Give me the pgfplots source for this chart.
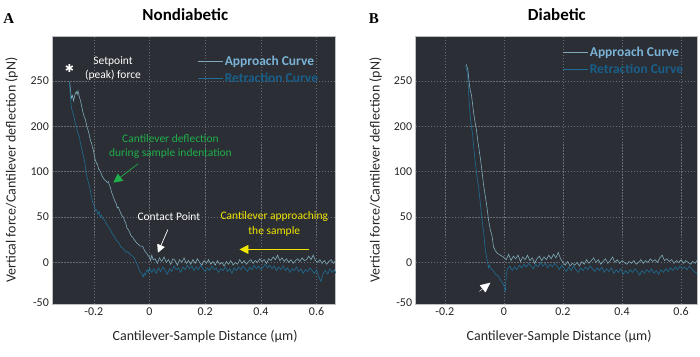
\documentclass[border=0pt]{standalone}
\usepackage{pgfplots}
\pgfplotsset{compat=1.18}
\usepackage{fontspec}
\setmainfont{Carlito}
\newfontfamily\letterfont{Liberation Serif}
\newfontfamily\symfont{DejaVu Sans}
\usetikzlibrary{arrows.meta}

\definecolor{panelbg}{HTML}{2B2E34}
\definecolor{gridc}{HTML}{696C72}
\definecolor{appr}{HTML}{7FAABA}
\definecolor{retr}{HTML}{1F6E96}
\definecolor{apprtxt}{HTML}{7BB3D8}
\definecolor{retrtxt}{HTML}{1A5F8A}
\definecolor{annGreen}{HTML}{1FAF4B}
\definecolor{annYellow}{HTML}{F2E600}

\tikzset{annot/.style={font=\fontsize{11.5}{14.7}\selectfont, align=center}}

% Force axis: the y scale is drawn with evenly spaced gridlines
% labelled 0, 50, 100, 200, 250 (display units below).
\pgfplotsset{
  afm/.style={
    scale only axis, height=269pt,
    clip mode=individual,
    axis background/.style={fill=panelbg},
    axis line style={gray!50, line width=0.6pt},
    grid=major,
    major grid style={gridc, dash pattern=on 1.2pt off 1.8pt, line width=0.5pt},
    tick style={draw=none},
    ymin=-46.2, ymax=249.5,
    ytick={0,50,100,150,200}, yticklabels={0,50,100,200,250},
    extra y ticks={-44}, extra y tick labels={-50},
    extra y tick style={grid=none},
    xtick={-0.2,0,0.2,0.4,0.6},
    xticklabels={-0.2,0,0.2,0.4,0.6},
    ticklabel style={font=\fontsize{12}{12}\selectfont, text=black!85},
    /pgf/number format/assume math mode=true,
    xlabel={Cantilever-Sample Distance (µm)},
    ylabel={Vertical force/Cantilever deflection (pN)},
    label style={font=\fontsize{14}{14}\selectfont, text=black!85},
    title style={font=\bfseries\fontsize{17}{17}\selectfont},
    legend style={draw=none, fill=none,
      font=\bfseries\fontsize{13.5}{13.5}\selectfont,
      anchor=north west, row sep=2pt},
    legend cell align=left,
    legend image code/.code={\draw[#1] (0pt,0pt) -- (25pt,0pt);},
  }
}

\begin{document}
\begin{tikzpicture}
\path (0pt,0pt) rectangle (700pt,357pt);

% ---------------- A: Nondiabetic ----------------
\begin{axis}[afm, at={(51pt,52pt)}, anchor=south west, width=284pt,
  xmin=-0.349, xmax=0.669,
  title={Nondiabetic},
  title style={at={(axis description cs:0.469,1.057)}, anchor=center},
  xlabel style={at={(axis description cs:0.539,-0.118)}, anchor=center},
  ylabel style={at={(axis description cs:-0.144,0.5)}, anchor=center},
  legend style={at={(axis description cs:0.50,0.94)}},
]
\addplot[appr, line width=0.6pt] coordinates {
(-0.287,199) (-0.284,190) (-0.281,181) (-0.277,184) (-0.273,178) (-0.268,185)
(-0.263,188) (-0.260,185) (-0.257,189) (-0.252,182) (-0.248,178) (-0.245,174)
(-0.241,168) (-0.239,165) (-0.234,160) (-0.230,157) (-0.226,151) (-0.221,146)
(-0.216,140) (-0.212,134) (-0.209,132) (-0.205,127) (-0.202,124) (-0.198,117)
(-0.194,112) (-0.190,109) (-0.187,108) (-0.183,103) (-0.180,102) (-0.175,99)
(-0.170,95) (-0.166,93) (-0.162,91) (-0.157,90) (-0.152,88) (-0.148,89)
(-0.145,86) (-0.140,82) (-0.136,77) (-0.130,72) (-0.125,68) (-0.120,65)
(-0.116,60) (-0.112,61) (-0.107,57) (-0.103,54) (-0.098,51) (-0.094,50)
(-0.090,46) (-0.086,44) (-0.081,38) (-0.076,36) (-0.071,33) (-0.066,29)
(-0.061,28) (-0.055,25) (-0.050,23) (-0.045,21) (-0.040,20) (-0.034,18)
(-0.029,18) (-0.023,17) (-0.018,13) (-0.013,11) (-0.008,9) (-0.004,7)
(0.000,6) (0.004,2) (0.008,8) (0.013,3)
(0.020,4) (0.028,-1) (0.036,5) (0.044,1) (0.052,6) (0.060,0) (0.068,3)
(0.076,-2) (0.084,4) (0.092,2) (0.100,-3) (0.108,3) (0.116,0) (0.124,5)
(0.132,-1) (0.140,2) (0.148,-2) (0.156,3) (0.164,-1) (0.172,4) (0.180,0)
(0.188,-3) (0.196,2) (0.204,-1) (0.212,3) (0.220,-2) (0.228,1) (0.236,-3)
(0.244,2) (0.252,-2) (0.260,0) (0.268,-4) (0.276,1) (0.284,-2) (0.292,2)
(0.300,-3) (0.308,0) (0.316,-2) (0.324,3) (0.332,-1) (0.340,2) (0.348,-2)
(0.356,1) (0.364,3) (0.372,-1) (0.380,2) (0.388,0) (0.396,4) (0.404,1)
(0.412,3) (0.420,-1) (0.428,4) (0.436,2) (0.444,6) (0.452,3) (0.460,8)
(0.468,2) (0.476,5) (0.484,1) (0.492,4) (0.500,0) (0.508,3) (0.516,-1)
(0.524,2) (0.532,4) (0.540,1) (0.548,5) (0.556,2) (0.564,3) (0.572,7)
(0.580,3) (0.588,8) (0.596,2) (0.604,0) (0.612,3) (0.620,-1) (0.628,2)
(0.636,-2) (0.644,1) (0.652,3) (0.660,-1) (0.668,2)
};
\addlegendentry{\textcolor{apprtxt}{Approach Curve}}
\addplot[retr, line width=0.6pt] coordinates {
(-0.288,199) (-0.285,186) (-0.281,171) (-0.277,166) (-0.273,163) (-0.268,155)
(-0.263,150) (-0.258,143) (-0.252,138) (-0.248,131) (-0.245,128) (-0.240,120)
(-0.234,113) (-0.230,104) (-0.227,97) (-0.222,91) (-0.216,84) (-0.212,78)
(-0.209,73) (-0.204,66) (-0.198,62) (-0.194,57) (-0.190,58) (-0.186,53)
(-0.181,56) (-0.177,50) (-0.173,52) (-0.168,48) (-0.162,47) (-0.157,43)
(-0.151,41) (-0.145,38) (-0.139,35) (-0.133,31) (-0.127,29) (-0.121,25)
(-0.115,23) (-0.109,21) (-0.103,17) (-0.097,16) (-0.091,14) (-0.085,11)
(-0.079,12) (-0.073,10) (-0.067,8) (-0.061,7) (-0.055,5) (-0.050,1)
(-0.046,-1) (-0.042,-4) (-0.037,-8) (-0.032,-11) (-0.027,-13) (-0.023,-16)
(-0.019,-12) (-0.015,-14) (-0.012,-10) (-0.008,-8) (-0.004,-11)
(0.000,-6) (0.008,-11) (0.016,-7) (0.024,-12) (0.032,-6) (0.040,-10)
(0.048,-5) (0.056,-9) (0.064,-13) (0.072,-7) (0.080,-10) (0.088,-4)
(0.096,-8) (0.104,-6) (0.112,-11) (0.120,-5) (0.128,-8) (0.136,-3)
(0.144,-7) (0.152,-4) (0.160,-9) (0.168,-5) (0.176,-8) (0.184,-3)
(0.192,-7) (0.200,-10) (0.208,-6) (0.216,-9) (0.224,-4) (0.232,-8)
(0.240,-6) (0.248,-11) (0.256,-7) (0.264,-9) (0.272,-5) (0.280,-10)
(0.288,-7) (0.296,-12) (0.304,-6) (0.312,-9) (0.320,-5) (0.328,-8)
(0.336,-4) (0.344,-7) (0.352,-10) (0.360,-5) (0.368,-8) (0.376,-3)
(0.384,-7) (0.392,-4) (0.400,-8) (0.408,-5) (0.416,-2) (0.424,-6)
(0.432,-3) (0.440,-7) (0.448,-4) (0.456,-9) (0.464,-5) (0.472,-8)
(0.480,-4) (0.488,-9) (0.496,-6) (0.504,-11) (0.512,-7) (0.520,-9)
(0.528,-5) (0.536,-10) (0.544,-7) (0.552,-12) (0.560,-8) (0.568,-10)
(0.576,-6) (0.584,-9) (0.592,-12) (0.600,-8) (0.608,-16) (0.616,-21)
(0.624,-12) (0.632,-9) (0.640,-13) (0.648,-7) (0.656,-11) (0.664,-8)
(0.669,-12)
};
\addlegendentry{\textcolor{retrtxt}{Retraction Curve}}

% annotations
\node[text=white, font=\symfont\fontsize{11}{11}\selectfont] at (axis cs:-0.288,214) {✱};
\node[annot, text=white] at (axis cs:-0.131,213.5) {Setpoint\\(peak) force};
\node[annot, text=annGreen] at (axis cs:0.075,127.8) {Cantilever deflection\\during sample indentation};
\draw[annGreen, line width=0.7pt, -{Triangle[length=9pt,width=9pt]}]
  (axis cs:-0.0405,108.8) -- (axis cs:-0.130,87.9);
\node[annot, text=white] at (axis cs:0.0695,50.2) {Contact Point};
\draw[white, line width=0.7pt, -{Triangle[length=8pt,width=8pt]}]
  (axis cs:0.066,36.3) -- (axis cs:0.030,10.7);
\node[annot, text=annYellow] at (axis cs:0.448,42.1) {Cantilever approaching\\the sample};
\draw[annYellow, line width=0.8pt, -{Triangle[length=9pt,width=9pt]}]
  (axis cs:0.573,14.3) -- (axis cs:0.323,14.3);
\node[font=\letterfont\bfseries\fontsize{15}{15}\selectfont, anchor=center]
  at (axis description cs:-0.154,1.066) {A};
\end{axis}

% ---------------- B: Diabetic ----------------
\begin{axis}[afm, at={(415pt,52pt)}, anchor=south west, width=282pt,
  xmin=-0.299, xmax=0.654,
  title={Diabetic},
  title style={at={(axis description cs:0.502,1.057)}, anchor=center},
  xlabel style={at={(axis description cs:0.51,-0.118)}, anchor=center},
  ylabel style={at={(axis description cs:-0.142,0.5)}, anchor=center},
  legend style={at={(axis description cs:0.51,0.975)}},
]
\addplot[appr, line width=0.6pt] coordinates {
(-0.127,218) (-0.122,212) (-0.117,196) (-0.113,188) (-0.110,185) (-0.106,174)
(-0.103,166) (-0.098,155) (-0.093,146) (-0.091,141) (-0.088,133) (-0.083,122)
(-0.079,113) (-0.074,100) (-0.069,86) (-0.063,73) (-0.057,60) (-0.052,47)
(-0.046,36) (-0.040,29) (-0.035,17) (-0.029,13) (-0.022,10) (-0.012,8)
(-0.002,6)
(0.008,3) (0.016,9) (0.024,2) (0.032,7) (0.040,4) (0.048,8) (0.056,1)
(0.064,6) (0.072,3) (0.080,8) (0.088,2) (0.096,5) (0.104,-1) (0.112,4)
(0.120,7) (0.128,2) (0.136,6) (0.144,3) (0.152,8) (0.160,4) (0.168,9)
(0.176,5) (0.184,11) (0.192,4) (0.200,0) (0.208,-3) (0.216,1) (0.224,-4)
(0.232,-1) (0.240,-3) (0.248,0) (0.256,-4) (0.264,1) (0.272,-2) (0.280,3)
(0.288,-1) (0.296,2) (0.304,5) (0.312,0) (0.320,3) (0.328,-2) (0.336,1)
(0.344,4) (0.352,-1) (0.360,2) (0.368,6) (0.376,0) (0.384,3) (0.392,-1)
(0.400,2) (0.408,0) (0.416,-2) (0.424,1) (0.432,-1) (0.440,2) (0.448,-2)
(0.456,0) (0.464,3) (0.472,-1) (0.480,2) (0.488,0) (0.496,4) (0.504,1)
(0.512,3) (0.520,0) (0.528,5) (0.536,8) (0.544,2) (0.552,4) (0.560,1)
(0.568,3) (0.576,-1) (0.584,2) (0.592,0) (0.600,3) (0.608,-1) (0.616,2)
(0.624,0) (0.632,-2) (0.640,1) (0.648,-1) (0.654,2)
};
\addlegendentry{\textcolor{apprtxt}{Approach Curve}}
\addplot[retr, line width=0.6pt] coordinates {
(-0.130,217) (-0.123,207) (-0.120,190) (-0.117,174) (-0.113,157) (-0.110,150)
(-0.106,141) (-0.103,130) (-0.098,113) (-0.093,100) (-0.090,91) (-0.086,84)
(-0.081,69) (-0.074,47) (-0.068,31) (-0.063,14) (-0.057,3) (-0.052,-6)
(-0.049,-3) (-0.042,-8) (-0.035,-9) (-0.029,-13) (-0.019,-15) (-0.012,-19)
(-0.002,-24) (0.005,-32) (0.008,-13)
(0.012,-7) (0.020,-4) (0.028,-9) (0.036,-5) (0.044,-8) (0.052,-3)
(0.060,-6) (0.068,-2) (0.076,-5) (0.084,-1) (0.092,-4) (0.100,-7)
(0.108,-2) (0.116,-5) (0.124,0) (0.132,-4) (0.140,-1) (0.148,-6)
(0.156,-2) (0.164,-5) (0.172,-1) (0.180,-4) (0.188,-8) (0.196,-3)
(0.204,-7) (0.212,-10) (0.220,-5) (0.228,-9) (0.236,-4) (0.244,-8)
(0.252,-11) (0.260,-6) (0.268,-9) (0.276,-5) (0.284,-8) (0.292,-4)
(0.300,-7) (0.308,-10) (0.316,-6) (0.324,-9) (0.332,-5) (0.340,-11)
(0.348,-7) (0.356,-10) (0.364,-6) (0.372,-12) (0.380,-8) (0.388,-11)
(0.396,-7) (0.404,-13) (0.412,-9) (0.420,-12) (0.428,-8) (0.436,-11)
(0.444,-7) (0.452,-10) (0.460,-14) (0.468,-9) (0.476,-12) (0.484,-8)
(0.492,-11) (0.500,-7) (0.508,-12) (0.516,-9) (0.524,-13) (0.532,-8)
(0.540,-11) (0.548,-7) (0.556,-10) (0.564,-6) (0.572,-9) (0.580,-5)
(0.588,-8) (0.596,-4) (0.604,-7) (0.612,-5) (0.620,-8) (0.628,-4)
(0.636,-7) (0.644,-10) (0.654,-12)
};
\addlegendentry{\textcolor{retrtxt}{Retraction Curve}}

\draw[white, line width=0.4pt, -{Triangle[length=10pt,width=9pt]}]
  (axis cs:-0.083,-31.9) -- (axis cs:-0.0456,-22.3);
\node[font=\letterfont\bfseries\fontsize{15}{15}\selectfont, anchor=center]
  at (axis description cs:-0.148,1.066) {B};
\end{axis}
\end{tikzpicture}
\end{document}
